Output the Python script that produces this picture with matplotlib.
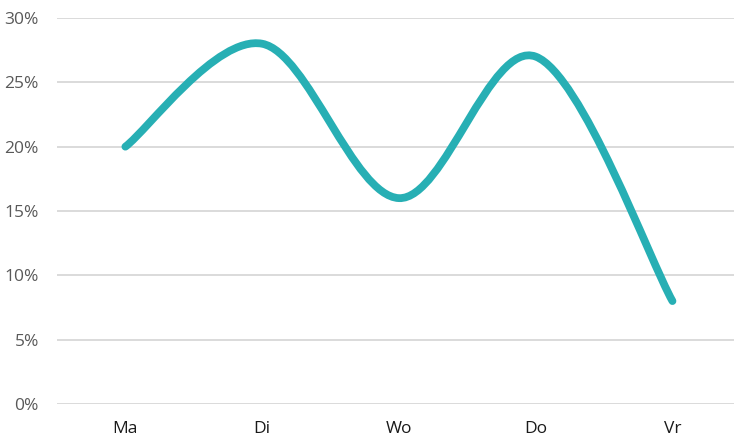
import matplotlib.pyplot as plt
from matplotlib.path import Path
from matplotlib.patches import PathPatch
from matplotlib.ticker import FuncFormatter
import numpy as np

days = ["Ma", "Di", "Wo", "Do", "Vr"]
values = [20, 28, 16, 27, 8]
y_ticks = [0, 5, 10, 15, 20, 25, 30]

line_color = "#27AFB4"
grid_color = "#D4D4D4"

plt.rcParams['font.family'] = ['Open Sans', 'DejaVu Sans']

fig = plt.figure(figsize=(7.34, 4.38), dpi=100)
ax = fig.add_axes([57 / 734, 1 - 404 / 438, 1 - 57 / 734, (404 - 18) / 438])

# smoothed line (Catmull-Rom as cubic bezier, like Excel's smoothing)
x = np.arange(len(days), dtype=float)
y = np.array(values, dtype=float)
pts = np.column_stack([x, y])
ext = np.vstack([pts[0], pts, pts[-1]])
verts = [tuple(pts[0])]
codes = [Path.MOVETO]
for i in range(len(pts) - 1):
    p0, p1, p2, p3 = ext[i], ext[i + 1], ext[i + 2], ext[i + 3]
    c1 = p1 + (p2 - p0) / 6
    c2 = p2 - (p3 - p1) / 6
    verts += [tuple(c1), tuple(c2), tuple(p2)]
    codes += [Path.CURVE4] * 3
patch = PathPatch(Path(verts, codes), facecolor="none", edgecolor=line_color,
                  linewidth=5.6, capstyle="round", joinstyle="round", zorder=3)
ax.add_patch(patch)

ax.set_xlim(-0.5, 4.45)
ax.set_ylim(0, 30)
ax.set_xticks(x)
ax.set_xticklabels(days)
ax.set_yticks(y_ticks)
ax.yaxis.set_major_formatter(FuncFormatter(lambda v, p: f"{v:.0f}%"))

ax.grid(axis="y", color=grid_color, linewidth=1.2)
ax.set_axisbelow(True)
for s in ax.spines.values():
    s.set_visible(False)
ax.tick_params(axis="both", length=0)
ax.tick_params(axis="y", pad=13, labelsize=12.5, labelcolor="#595959")
ax.tick_params(axis="x", pad=12.5, labelsize=12.5, labelcolor="#1a1a1a")

fig.savefig("out.png", dpi=100)
